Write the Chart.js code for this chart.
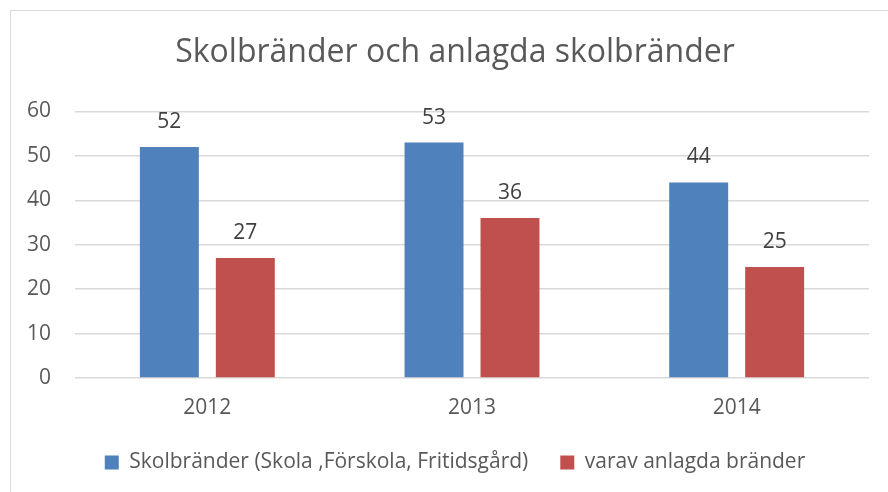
<!DOCTYPE html>
<html>
<head>
<meta charset="utf-8">
<script src="https://cdn.jsdelivr.net/npm/chart.js@4"></script>
<style>
  html, body { margin: 0; padding: 0; background: #fff; overflow: hidden; }
  .frame {
    position: absolute; left: 10px; top: 10px;
    width: 900px; height: 500px;
    border: 1px solid #d9d9d9; box-sizing: border-box;
  }
  .frame canvas { display: block; }
</style>
</head>
<body>
<div class="frame"><canvas id="chart" width="888" height="497"></canvas></div>
<script>
const years = ['2012', '2013', '2014'];
const allFires = [52, 53, 44];
const arsonFires = [27, 36, 25];
const seriesNames = ['Skolbränder (Skola ,Förskola, Fritidsgård)', 'varav anlagda bränder'];

const FONT = '"Open Sans", sans-serif';

// draws the value above each bar
const barLabels = {
  id: 'barLabels',
  afterDatasetsDraw(chart) {
    const ctx = chart.ctx;
    ctx.save();
    ctx.font = '21px ' + FONT;
    ctx.fillStyle = '#404040';
    ctx.textAlign = 'center';
    ctx.textBaseline = 'alphabetic';
    chart.data.datasets.forEach((ds, i) => {
      chart.getDatasetMeta(i).data.forEach((bar, j) => {
        ctx.fillText(ds.data[j], bar.x, bar.y - 19);
      });
    });
    ctx.restore();
  }
};

new Chart(document.getElementById('chart'), {
  type: 'bar',
  data: {
    labels: years,
    datasets: [
      { label: seriesNames[0], data: allFires, backgroundColor: '#4f81bd' },
      { label: seriesNames[1], data: arsonFires, backgroundColor: '#c0504d' },
    ],
  },
  options: {
    responsive: false,
    animation: false,
    categoryPercentage: 0.574,
    barPercentage: 0.776,
    layout: { padding: { left: 0, right: 0, top: 0, bottom: 25 } },
    plugins: {
      title: {
        display: true,
        text: 'Skolbränder och anlagda skolbränder',
        color: '#595959',
        font: { size: 32, family: FONT, weight: 'normal' },
        padding: { top: 23, bottom: 39 },
      },
      legend: {
        position: 'bottom',
        labels: {
          color: '#595959',
          font: { size: 21, family: FONT },
          boxWidth: 14,
          boxHeight: 14,
          padding: 32,
        },
      },
      tooltip: { enabled: false },
    },
    scales: {
      x: {
        grid: { display: false, drawTicks: false },
        border: { display: false },
        ticks: { color: '#595959', font: { size: 21, family: FONT }, padding: 17 },
        afterFit(scale) { scale.height = 42; },
      },
      y: {
        min: 0,
        max: 60,
        ticks: { stepSize: 10, color: '#595959', font: { size: 21, family: FONT }, padding: 24 },
        grid: { color: '#d9d9d9', lineWidth: 1.5, drawTicks: false },
        border: { display: false },
        afterFit(scale) { scale.width = 64; },
      },
      // empty right margin so the plot ends short of the frame while the title stays centred
      yRight: {
        position: 'right',
        ticks: { display: false },
        grid: { display: false },
        border: { display: false },
        afterFit(scale) { scale.width = 30; },
      },
    },
  },
  plugins: [barLabels],
});
</script>
</body>
</html>
